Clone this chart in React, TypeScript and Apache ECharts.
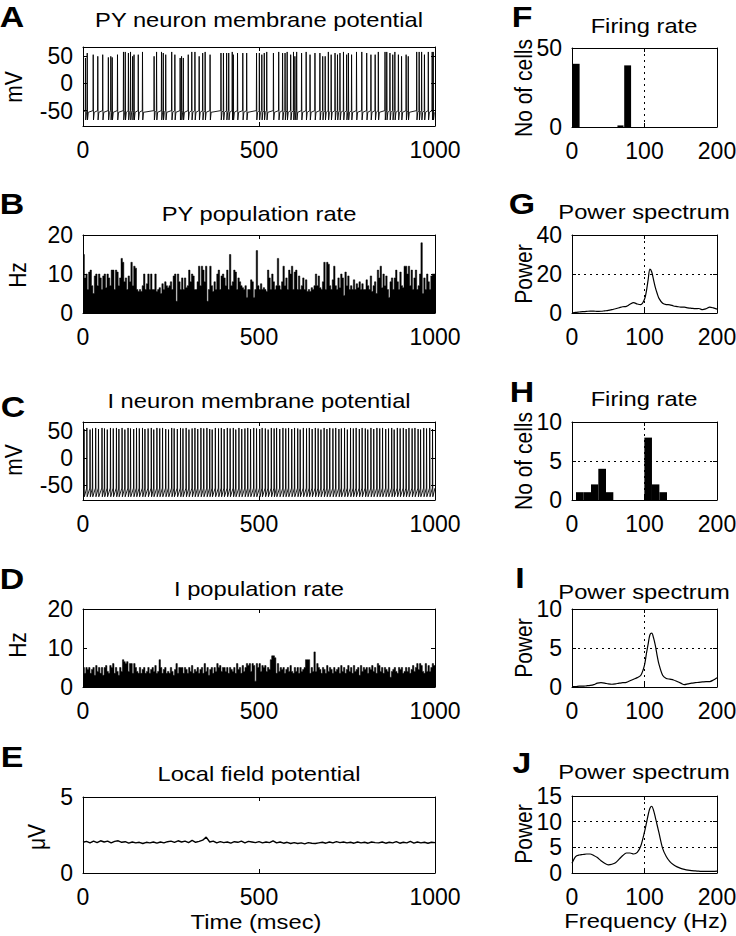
import React, { useEffect, useRef } from "react";
import * as echarts from "echarts";

const FONT = "'Liberation Sans', Arial, Helvetica, sans-serif";

// ---------- DATA ----------
// A: PY neuron spike times (ms) and peak voltages (mV)
const spikeTimesA = [7,12,29,42,56,72,79,83,98,115, 120,129,135,141,145,157,169,202,209,223, 228,235,252,261,276,280,285,299,309,318, 330,340,347,361,392,399,408,414,424,427, 439,454,465,493,501,508,515,522,541,556, 567,574,580,590,598,602,607,621,634,645, 659,673,681,688,697,705,716,723,730,740, 749,754,763,777,792,806,818,830,839,858, 863,872,880,886,896,905,918,924,948,955, 962,970,981,992,995];
const spikePeaksA = [46,55,52,49,52,47,49,47,52,57, 57,55,57,49,52,52,57,49,57,57, 55,52,57,52,46,49,46,52,57,57, 49,55,57,52,55,55,55,55,57,52, 55,55,55,55,55,52,55,57,55,57, 55,55,57,52,57,49,57,55,57,52, 55,55,49,49,57,52,55,52,55,57, 52,55,52,57,57,55,52,52,57,57, 57,55,52,57,52,49,52,49,57,57, 57,52,57,57,57];

// C: I neuron spike times (ms) and peaks (mV)
const spikeTimesC = [3,11,20,27,36,44,54,61,69,78, 86,95,102,111,119,128,135,144,152,160, 169,176,185,194,201,210,218,226,235,243, 252,259,268,277,284,293,301,310,318,326, 335,343,352,360,367,376,385,393,401,410, 418,427,434,443,451,460,468,476,485,493, 502,509,518,526,535,543,550,559,568,576, 584,593,601,610,617,626,635,643,651,660, 668,676,685,693,701,710,718,727,734,743, 751,760,768,776,785,793,802,809,818,826, 835,843,851,860,868,877,884,893,901,910, 918,926,935,943,952,959,968,976,985,993];
const spikePeaksC = [53,55,52,54,55,53,55,54,52,55, 54,55,53,55,52,55,54,53,55,54, 55,53,54,55,52,55,54,55,53,52, 55,54,53,55,54,55,52,54,55,53, 55,54,55,53,52,55,54,55,53,55, 54,55,52,55,53,54,55,53,55,54, 53,55,54,52,55,54,55,53,55,54, 55,53,55,54,52,55,54,55,53,55, 54,52,55,53,55,54,55,53,54,55, 52,55,54,55,53,55,54,52,55,53, 55,54,55,53,54,55,52,55,54,55, 53,55,54,55,53,52,55,54,55,53];

// B: PY population rate (Hz), 4 ms bins
const rateBinMs = 4;
const pyRate = [
  15,9,10,6,10.5,11,7,5,9.5,10, 7,10,9,6,9.5,10,6.5,10,9,7,
  11,11,6,11,10.5,7,9,14,13,8, 9,6,9.5,8,13,7,12,11.5,6,5.5,
  6,5.5,7,10,6,7.5,10,6,10,6, 6,10,5.5,6,6.5,5,7.5,6,8,7,
  6.5,7,8,6,9.5,10,3,10,8,6, 9,6,9,6.5,7,11,8,10,9.5,6,
  6,8,12,7,12,11,8,12,3,6, 12,7,5.5,8,6,10,11,6,9.5,10,
  9,7,11,6,15,7,8,11,10.5,6, 9,8,7,6.5,6,7,4,6,6,8.5,
  8,4,6,16,7,6,7.5,6,6.5,6, 5.5,11,9,6,10,8,6,7,14,7,
  6,8,12,7,9,6,11,10,12,6, 10.5,11,6,9.5,6,7,9,6,8.5,5.5,
  6,5.5,6.5,6,7,10,7,9.5,6.5,6, 8,13,6,13,12.5,7,6,8.5,12,7,
  6,9,6.5,10,9,4.5,10.5,7,9.5,6, 7,6,8.5,6,7.5,6.5,8,6,7.5,6,
  6,8.5,7,6,9.5,5.5,7,8,5,11, 9,12,6.5,10,7,9.5,6,4,8,9,
  6,9,11,8,6,10.5,7,6.5,12,12, 10,12,7,11,6,9,11,6,7,10,
  18,5,9,6,10,8,6,9.5,10,10
];

// D: I population rate (Hz), 4 ms bins
const iRate = [
  5,3.5,5,4.5,5,3.5,4.5,5,3,5.5, 4,5,3.5,5,3,5,5.5,4,3.5,5.5,
  5,6,3.5,5,4,3,5,4,7,6.5, 6,6.5,4,6,6,3.5,6,5,4,3.5,
  5,3.5,4.5,5,3.5,4,5,3.5,4.5,5, 4,5.5,3.5,4,7,5,3.5,4.5,5,3.5,
  4,3.5,5,4,3,4.5,6,3.5,5,5, 5,3.5,5,4.5,3.5,5,4,5.5,3.5,4.5,
  4,5,3.5,4.5,5,3.5,6,4,5,3, 4.5,5,3.5,5,4,6,5,5.5,4,5,
  5,4,5,3.5,5,4.5,4,5,3.5,6, 4.5,5,3.5,5.5,4,5,6,5.5,6,4,
  6,5.5,1.5,6,5,6,4,5.5,5,5.5, 4,5,4.5,7,8,8,7.5,3.5,6,4,
  5,4.5,5,3.5,4.5,5,4,5.5,4,3.5, 5,4,5,3.5,5,4,4.5,5,7,7,
  7,3.5,5,4,9,4,6,5,4.5,3.5, 5,4.5,3.5,5.5,4,5,4.5,3.5,5,4,
  4.5,5,3.5,5.5,4,5,3.5,4.5,5.5,4, 5,3.5,5.5,4,4.5,5,3,5.5,4,5,
  4.5,5,3.5,5,4.5,5.5,4,5,3.5,6, 5.5,4,5,3.5,5,4.5,4,5,2.5,4,
  4.5,5,4,3.5,5,4.5,5,3.5,4,5, 4,5,3.5,4.5,5.5,4,5,6,4.5,6,
  5.5,4,3.5,6,4,5.5,4,5,6,5.5
];

// E: local field potential (uV), 10 ms steps
const lfpStepMs = 10;
const lfp = [
  2.02,2.08,1.98,2.1,2.0,2.12,2.04,2.1,1.98,2.08, 2.12,2.02,2.06,1.96,2.04,1.98,2.02,1.94,2.02,1.98,
  2.04,1.96,2.04,1.98,2.06,2.1,2.02,2.12,2.04,2.1, 2.0,2.14,2.02,2.08,2.16,2.36,2.04,2.1,1.98,2.06,
  2.0,2.04,1.96,2.06,2.02,2.1,1.98,2.08,2.04,2.0, 2.06,1.98,2.04,2.0,2.12,1.98,2.04,1.96,2.02,1.94,
  2.0,1.94,1.98,1.92,2.0,1.96,1.94,1.98,2.02,1.96, 2.04,1.98,2.06,2.0,2.04,1.98,2.02,1.96,2.04,1.98,
  2.02,1.96,2.04,2.0,1.98,2.04,1.96,2.02,1.98,2.06, 1.96,2.02,1.98,2.08,1.96,2.04,1.98,2.02,1.96,2.02,
  2.0
];

// F / H: firing-rate histograms [binStart Hz, binEnd Hz, cells]
const firingPY = [[0,10.5,40],[62.7,71,1],[72,81.5,39]];
const firingI = [[5.5,15.6,1],[15.6,26.2,1],[26.2,36.3,2],[36.3,46.9,4],[46.9,57,1],[99.8,110.3,8],[110.3,120.5,2],[120.5,131,1]];

// G / I / J: power spectra
const freqs = [0,5,10,15,20,25,30,35,40,45,50,55,60,65,70,75,80,85,90,95,100,102.5,105,107.5,110,112.5,115,117.5,120,125,130,135,140,145,150,155,160,165,170,175,180,185,190,195,200];
const powerPY = [0,0.3,0.5,0.7,0.8,1,1,0.8,0.9,1.1, 1.3,1.7,2.2,2.7,3.2,3.4,4.5,5.3,4.6,4.3, 7,11,17,22.5,21,17,13,10,7.5, 5,4.3,4.2,3.6,3.3,3,3,2.6,2.4,2.2,2.3,1.7,2.2,3,2.6,2];
const powerI = [0.05,0.05,0.1,0.1,0.15,0.2,0.3,0.5,0.55,0.5, 0.4,0.35,0.4,0.5,0.55,0.6,0.8,1.0,1.2,1.5, 2.8,4.2,5.5,6.7,6.9,6.3,5.3,4,2.9, 1.5,1.1,1.0,0.9,0.7,0.5,0.3,0.4,0.5,0.55,0.6,0.65,0.7,0.7,0.9,1.2];
const powerLFP = [1.9,3.2,3.5,3.6,3.7,3.7,3.4,3.0,2.4,1.9, 1.6,1.7,2.0,2.7,3.4,3.9,3.9,3.7,4.0,5.3, 8.0,9.6,11.3,12.6,13,12.2,10.8,9.3,7.8, 4.8,3.2,2.2,1.6,1.2,0.9,0.7,0.55,0.45,0.4,0.35,0.3,0.3,0.3,0.3,0.35];

// ---------- helpers ----------
function spikeTrace(times: number[], peaks: number[], pre: number, ahp: number, rest: number | null, recover: number) {
  const pts: number[][] = [[0, rest ?? pre]];
  times.forEach((t, i) => {
    const next = i + 1 < times.length ? times[i + 1] : 1000;
    pts.push([t - 0.6, pre], [t, peaks[i]], [t + 0.8, ahp]);
    if (rest !== null) {
      const r = Math.min(t + recover, next - 1.2);
      if (r > t + 0.8) pts.push([r, rest]);
    }
  });
  pts.push([1000, rest ?? pre]);
  return pts;
}
function rateSteps(vals: number[], bin: number) {
  const d = vals.map((v, i) => [i * bin, v]);
  d.push([vals.length * bin, vals[vals.length - 1]]);
  return d;
}

const grids = [
  { left: 83, top: 47, width: 352, height: 79 },
  { left: 83, top: 235, width: 352, height: 78 },
  { left: 83, top: 422, width: 352, height: 78 },
  { left: 83, top: 609, width: 352, height: 78 },
  { left: 83, top: 797, width: 352, height: 76 },
  { left: 572, top: 48, width: 145, height: 79 },
  { left: 572, top: 235, width: 145, height: 78 },
  { left: 572, top: 422, width: 145, height: 78 },
  { left: 572, top: 609, width: 145, height: 78 },
  { left: 572, top: 796, width: 145, height: 77 },
];

type AxisSpec = { xMin: number; xMax: number; xInt: number; yMin: number; yMax: number; yInt?: number; yTicks?: number[]; dotted: boolean };
const axisSpecs: AxisSpec[] = [
  { xMin: 0, xMax: 1000, xInt: 500, yMin: -78, yMax: 66, yTicks: [-50, 0, 50], dotted: false },
  { xMin: 0, xMax: 1000, xInt: 500, yMin: 0, yMax: 20, yInt: 10, dotted: false },
  { xMin: 0, xMax: 1000, xInt: 500, yMin: -78, yMax: 66, yTicks: [-50, 0, 50], dotted: false },
  { xMin: 0, xMax: 1000, xInt: 500, yMin: 0, yMax: 20, yInt: 10, dotted: false },
  { xMin: 0, xMax: 1000, xInt: 500, yMin: 0, yMax: 5, yInt: 5, dotted: false },
  { xMin: 0, xMax: 200, xInt: 100, yMin: 0, yMax: 50, yInt: 50, dotted: true },
  { xMin: 0, xMax: 200, xInt: 100, yMin: 0, yMax: 40, yInt: 20, dotted: true },
  { xMin: 0, xMax: 200, xInt: 100, yMin: 0, yMax: 10, yInt: 5, dotted: true },
  { xMin: 0, xMax: 200, xInt: 100, yMin: 0, yMax: 10, yInt: 5, dotted: true },
  { xMin: 0, xMax: 200, xInt: 100, yMin: 0, yMax: 15, yInt: 5, dotted: true },
];

const titleTexts = ["PY neuron membrane potential", "PY population rate", "I neuron membrane potential", "I population rate", "Local field potential", "Firing rate", "Power spectrum", "Firing rate", "Power spectrum", "Power spectrum"];
const titlePos = [[259, 20], [259, 214], [259, 401], [259, 589], [259, 774], [644, 26], [644, 212], [644, 399], [644, 592], [644, 772]];
const letters = ["A", "B", "C", "D", "E", "F", "G", "H", "I", "J"];
const letterPos = [[12, 17], [12, 204], [13, 407], [12, 579], [12, 757], [522, 17], [522, 204], [522, 392], [520, 578], [522, 763]];
const yNames = ["mV", "Hz", "mV", "Hz", "\u03bcV", "No of cells", "Power", "No of cells", "Power", "Power"];
const yNamePos = [[14, 87], [18, 275], [14, 460], [18, 645], [37, 837], [524, 88], [524, 274], [524, 461], [524, 648], [524, 834]];
const xNames = [["Time (msec)", 256, 922], ["Frequency (Hz)", 646, 921]];

const black = "#000";
const TICK_FS = 23;
const TEXT_FS = 21;
const STRETCH = 1.13;
const dottedLine = { color: black, width: 1, type: [2, 4] };

function buildOption() {
  const xAxis: any[] = [];
  const yAxis: any[] = [];
  axisSpecs.forEach((s, i) => {
    [false, true].forEach((mirror) => {
      xAxis.push({
        type: "value", gridIndex: i, min: s.xMin, max: s.xMax, interval: s.xInt,
        position: mirror ? "top" : "bottom",
        axisLine: { show: true, onZero: false, lineStyle: { color: black, width: 1 } },
        axisTick: { show: true, inside: true, length: 4, lineStyle: { color: black, width: 1 } },
        axisLabel: { show: !mirror, color: black, fontSize: TICK_FS, lineHeight: 20, fontFamily: FONT, margin: 14, formatter: (v: number) => String(v), showMinLabel: true, showMaxLabel: true },
        splitLine: { show: !mirror && s.dotted, lineStyle: dottedLine },
        silent: true,
      });
      const y: any = {
        type: "value", gridIndex: i, min: s.yMin, max: s.yMax,
        position: mirror ? "right" : "left",
        axisLine: { show: true, onZero: false, lineStyle: { color: black, width: 1 } },
        axisTick: { show: true, inside: true, length: 4, lineStyle: { color: black, width: 1 } },
        axisLabel: { show: !mirror, color: black, fontSize: TICK_FS, lineHeight: 20, fontFamily: FONT, margin: 10, formatter: (v: number) => String(v), showMinLabel: true, showMaxLabel: true },
        splitLine: { show: !mirror && s.dotted, lineStyle: dottedLine },
        silent: true,
      };
      if (s.yTicks) {
        y.axisLabel.customValues = s.yTicks;
        y.axisTick.customValues = s.yTicks;
        y.interval = 50;
      } else {
        y.interval = s.yInt;
      }
      yAxis.push(y);
    });
  });

  const lineBase = (i: number, data: number[][], width: number, extra: any = {}) => ({
    type: "line", xAxisIndex: 2 * i, yAxisIndex: 2 * i, data, showSymbol: false, symbol: "none",
    lineStyle: { color: black, width }, itemStyle: { color: black }, silent: true, z: 3, ...extra,
  });
  const histo = (i: number, data: number[][]) => ({
    type: "custom", xAxisIndex: 2 * i, yAxisIndex: 2 * i, data, silent: true, z: 3,
    encode: { x: [0, 1], y: 2 },
    renderItem: (_p: any, api: any) => {
      const a = api.coord([api.value(0), 0]);
      const b = api.coord([api.value(1), api.value(2)]);
      return { type: "rect", shape: { x: a[0], y: b[1], width: b[0] - a[0], height: a[1] - b[1] }, style: { fill: black } };
    },
  });

  const series = [
    lineBase(0, spikeTrace(spikeTimesA, spikePeaksA, -50, -67, -53, 3), 0.9),
    lineBase(1, rateSteps(pyRate, rateBinMs), 0.5, { step: "end", areaStyle: { color: black, opacity: 1 } }),
    lineBase(2, spikeTrace(spikeTimesC, spikePeaksC, -56, -72, null, 0), 0.9),
    lineBase(3, rateSteps(iRate, rateBinMs), 0.5, { step: "end", areaStyle: { color: black, opacity: 1 } }),
    lineBase(4, lfp.map((v, k) => [k * lfpStepMs, v]), 1.4),
    histo(5, firingPY),
    lineBase(6, freqs.map((f, k) => [f, powerPY[k]]), 1.2, { smooth: 0.3 }),
    histo(7, firingI),
    lineBase(8, freqs.map((f, k) => [f, powerI[k]]), 1.2, { smooth: 0.3 }),
    lineBase(9, freqs.map((f, k) => [f, powerLFP[k]]), 1.2, { smooth: 0.3 }),
  ];

  const graphic: any[] = [];
  const txt = (text: string, x: number, y: number, size: number, bold = false, rot = 0, lh?: number) => ({
    type: "text", x, y, rotation: rot, silent: true,
    scaleX: rot ? 1 : STRETCH, scaleY: rot ? STRETCH : 1,
    style: { text, fill: black, font: `${bold ? "bold " : ""}${size}px ${FONT}`, fontSize: size, fontFamily: FONT, fontWeight: bold ? "bold" : "normal", lineHeight: lh, align: "center", verticalAlign: "middle", textAlign: "center", textVerticalAlign: "middle" },
  });
  titleTexts.forEach((t, i) => graphic.push(txt(t, titlePos[i][0], titlePos[i][1], TEXT_FS)));
  letters.forEach((t, i) => graphic.push(txt(t, letterPos[i][0], letterPos[i][1], 30, true)));
  yNames.forEach((t, i) => graphic.push(txt(t, yNamePos[i][0], yNamePos[i][1], TEXT_FS, false, Math.PI / 2)));
  xNames.forEach((n) => graphic.push(txt(n[0] as string, n[1] as number, n[2] as number, TEXT_FS, false, 0, 20)));

  return {
    animation: false,
    backgroundColor: "#fff",
    grid: grids.map((g) => ({ ...g, containLabel: false, outerBoundsMode: "none", show: false })),
    xAxis, yAxis, series, graphic,
  };
}

export default function App() {
  const ref = useRef<HTMLDivElement>(null);
  useEffect(() => {
    if (!ref.current) return;
    const chart = echarts.init(ref.current, undefined, { renderer: "svg" });
    chart.setOption(buildOption() as any);
    return () => chart.dispose();
  }, []);
  return <div ref={ref} style={{ position: "fixed", left: 0, top: 0, width: 736, height: 936, background: "#fff" }} />;
}
